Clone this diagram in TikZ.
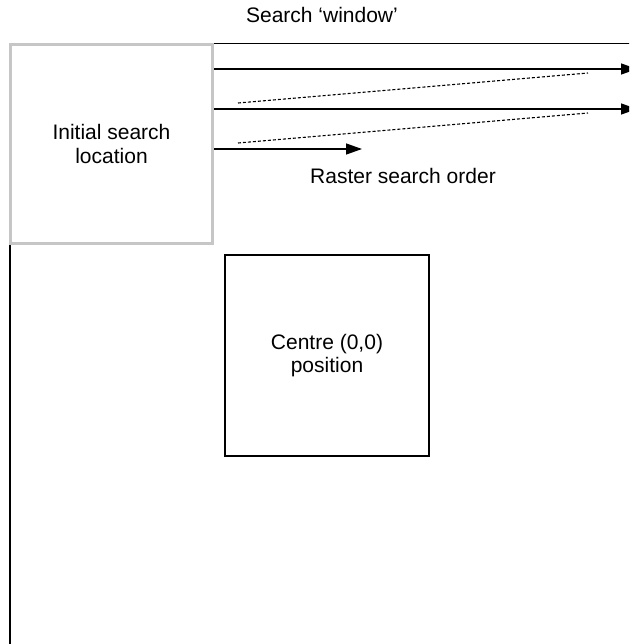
\documentclass[tikz,border=0pt]{standalone}
\usepackage{fontspec}
\setmainfont{Liberation Sans}
\usetikzlibrary{positioning, arrows.meta}

\begin{document}
\begin{tikzpicture}[
    x=1pt, y=-1pt,
    font=\fontsize{21}{23.5}\selectfont,
    initbox/.style={
        rectangle, draw=gray!45, fill=white, line width=3pt,
        minimum width=202pt, minimum height=199pt,
        align=center, inner sep=0pt
    },
    centrebox/.style={
        rectangle, draw=black, line width=1.2pt,
        minimum width=204pt, minimum height=201pt,
        align=center, inner sep=0pt
    },
    wline/.style={line width=1.3pt},
    arr/.style={-{Triangle[length=16pt, width=11pt]}, line width=1.3pt},
    darr/.style={dash pattern=on 3pt off 2pt, line width=1.1pt},
]

\clip (0,0) rectangle (629,644);

% Search window outline
\coordinate (wtl) at (10,43.5);
\coordinate (wtr) at (640,43.5);
\coordinate (wbl) at (10,650);
\draw[wline] (wbl) -- (wtl) -- (wtr);

% Boxes
\node[initbox]   (init)   at (111.5,144) {Initial search\\location};
\node[centrebox] (centre) at (327,355.5) {Centre (0,0)\\position};

% Raster rows
\coordinate (row1) at (637,69);
\coordinate (row2) at (637,109);
\coordinate (row3) at (362,149);
\draw[arr] (init.east |- row1) -- (row1);
\draw[arr] (init.east |- row2) -- (row2);
\draw[arr] (init.east |- row3) -- (row3);

% Fly-back lines
\coordinate (back1a) at (238,103);
\coordinate (back1b) at (588,73);
\coordinate (back2a) at (238,143);
\coordinate (back2b) at (588,113);
\draw[darr] (back1a) -- (back1b);
\draw[darr] (back2a) -- (back2b);

% Labels
\node (wlabel) at (322,15)  {Search ‘window’};
\node (rlabel) at (403,176) {Raster search order};

\end{tikzpicture}
\end{document}
